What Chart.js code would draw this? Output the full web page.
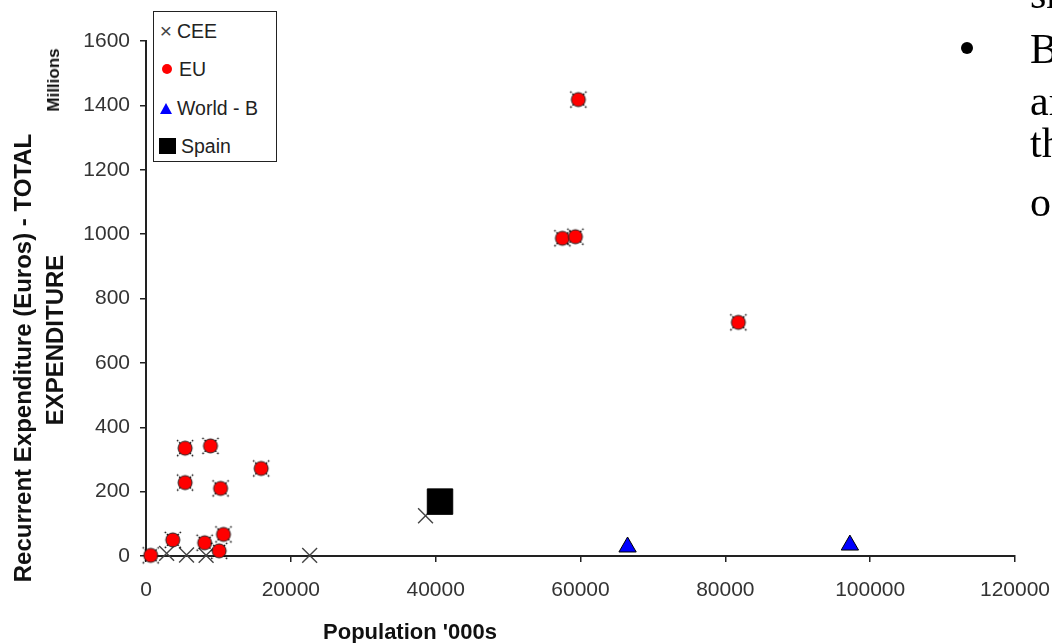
<!DOCTYPE html>
<html>
<head>
<meta charset="utf-8">
<script src="https://cdn.jsdelivr.net/npm/chart.js@4"></script>
<style>
  body { margin: 0; background: #fff; }
  #wrap { position: relative; width: 1052px; height: 643px; overflow: hidden; font-family: "Liberation Sans", Arial, sans-serif; }
  canvas { position: absolute; left: 0; top: 0; }
  .rot { position: absolute; transform: translate(-50%, -50%) rotate(-90deg); white-space: nowrap; font-weight: bold; color: #111; text-align: center; }
  #xtitle { position: absolute; transform: translate(-50%, -50%); font-weight: bold; font-size: 22px; color: #111; white-space: nowrap; }
  #legend { position: absolute; left: 153px; top: 11px; width: 122px; height: 149px; border: 1.5px solid #222; background: #fff; }
  .item { position: absolute; left: 0; height: 20px; display: flex; align-items: center; font-size: 19.5px; color: #222; }
  .serif { position: absolute; font-family: "Liberation Serif", "Times New Roman", serif; font-size: 42px; color: #000; white-space: nowrap; line-height: 1; }
  #bullet { position: absolute; left: 961px; top: 42px; width: 12px; height: 12px; border-radius: 50%; background: #000; }
</style>
</head>
<body>
<div id="wrap">
  <canvas id="scatterChart" width="1052" height="643"></canvas>
  <div class="rot" style="left:54px; top:80px; font-size:17px;">Millions</div>
  <div class="rot" style="left:23px; top:358px; font-size:24px;">Recurrent Expenditure (Euros) - TOTAL</div>
  <div class="rot" style="left:55px; top:340px; font-size:24px;">EXPENDITURE</div>
  <div id="xtitle" style="left:410px; top:632px;">Population '000s</div>
  <div id="legend"></div>
  <div class="serif" style="left:1030px; top:-27px;">sh</div>
  <div id="bullet"></div>
  <div class="serif" style="left:1030px; top:28px;">B</div>
  <div class="serif" style="left:1030px; top:80px;">an</div>
  <div class="serif" style="left:1030px; top:122px;">th</div>
  <div class="serif" style="left:1030px; top:181px;">o</div>
</div>
<script>
// values
const seriesNames = ['CEE', 'EU', 'World - B', 'Spain'];

const ceeX = [2850, 5600, 8300, 22600, 38600];
const ceeY = [8, 3, 2, 2, 125];

const euX = [59700, 57500, 59300, 81800, 5400, 8900, 5400, 10300, 15900, 3700, 8100, 10700, 10100, 650];
const euY = [1418, 987, 992, 726, 335, 342, 228, 210, 272, 50, 41, 67, 16, 2];

const worldX = [66500, 97200];
const worldY = [28, 34];

const spainX = [40600];
const spainY = [169];

const xTicks = [0, 20000, 40000, 60000, 80000, 100000, 120000];
const yTicks = [0, 200, 400, 600, 800, 1000, 1200, 1400, 1600];

function toPoints(xs, ys) {
    return xs.map((x, i) => ({ x: x, y: ys[i] }));
}

// EU marker: red dot with dotted cross behind it
function euMarker() {
    const c = document.createElement('canvas');
    c.width = 20; c.height = 20;
    const g = c.getContext('2d');
    g.strokeStyle = '#000';
    g.lineWidth = 1.5;
    g.setLineDash([1.5, 1.5]);
    g.beginPath();
    g.moveTo(2, 2); g.lineTo(18, 18);
    g.moveTo(18, 2); g.lineTo(2, 18);
    g.stroke();
    g.setLineDash([]);
    g.lineWidth = 1;
    g.beginPath();
    g.arc(10, 10, 7, 0, Math.PI * 2);
    g.fillStyle = '#ff0000';
    g.fill();
    g.strokeStyle = '#222';
    g.stroke();
    return c;
}

// keep the plot box where the original has it
function fitX(s) { s.height = 87; s.paddingLeft = 0; s.paddingRight = 0; }
function fitY(s) { s.width = 146; s.paddingTop = 0; s.paddingBottom = 0; }

const ctx = document.getElementById('scatterChart');
const chart = new Chart(ctx, {
    type: 'scatter',
    data: {
        datasets: [
            { label: seriesNames[0], data: toPoints(ceeX, ceeY), pointStyle: 'crossRot', radius: 10.5, borderColor: '#444', borderWidth: 1.4, order: 4, clip: false },
            { label: seriesNames[1], data: toPoints(euX, euY), pointStyle: euMarker(), order: 3, clip: false },
            { label: seriesNames[2], data: toPoints(worldX, worldY), pointStyle: 'triangle', radius: 10, backgroundColor: '#0000ff', borderColor: '#000', borderWidth: 1, order: 2, clip: false },
            { label: seriesNames[3], data: toPoints(spainX, spainY), pointStyle: 'rect', radius: 18, backgroundColor: '#000', borderColor: '#000', borderWidth: 1, order: 1, clip: false },
        ]
    },
    options: {
        responsive: false,
        devicePixelRatio: 1,
        animation: false,
        layout: { padding: { left: 0, top: 41, right: 37, bottom: 0 } },
        scales: {
            x: {
                type: 'linear', min: 0, max: 120000,
                afterBuildTicks: s => { s.ticks = xTicks.map(v => ({ value: v })); },
                afterFit: fitX,
                ticks: { color: '#333', font: { family: 'Liberation Sans', size: 21 }, padding: 16, callback: v => String(v) },
                grid: { display: true, drawOnChartArea: false, drawTicks: true, tickLength: 6, color: '#222', lineWidth: 1.5 },
                border: { display: true, color: '#222', width: 2 }
            },
            y: {
                type: 'linear', min: 0, max: 1600,
                afterBuildTicks: s => { s.ticks = yTicks.map(v => ({ value: v })); },
                afterFit: fitY,
                ticks: { color: '#333', font: { family: 'Liberation Sans', size: 21 }, padding: 10, callback: v => String(v) },
                grid: { display: true, drawOnChartArea: false, drawTicks: true, tickLength: 6, color: '#222', lineWidth: 1.5 },
                border: { display: true, color: '#222', width: 2 }
            }
        },
        plugins: { legend: { display: false }, tooltip: { enabled: false } }
    }
});

// legend built from the datasets
const icons = [
    '<span style="font-size:21px;color:#444;width:16px;text-align:center;">&times;</span>',
    '<span style="display:inline-block;width:10px;height:10px;border-radius:50%;background:#f00;margin:0 4px 0 8px;"></span>',
    '<span style="display:inline-block;width:0;height:0;border-left:6px solid transparent;border-right:6px solid transparent;border-bottom:11px solid #0000ff;margin:0 2px 0 6px;"></span>',
    '<span style="display:inline-block;width:17px;height:16px;background:#000;margin:0 2px 0 5px;"></span>'
];
const tops = [9, 47, 86, 124];
document.getElementById('legend').innerHTML = chart.data.datasets.map((d, i) =>
    '<div class="item" style="top:' + tops[i] + 'px;' + (i === 0 ? 'left:4px;' : '') + '">' + icons[i] + '<span style="margin-left:3px;">' + d.label + '</span></div>'
).join('');
</script>
</body>
</html>
